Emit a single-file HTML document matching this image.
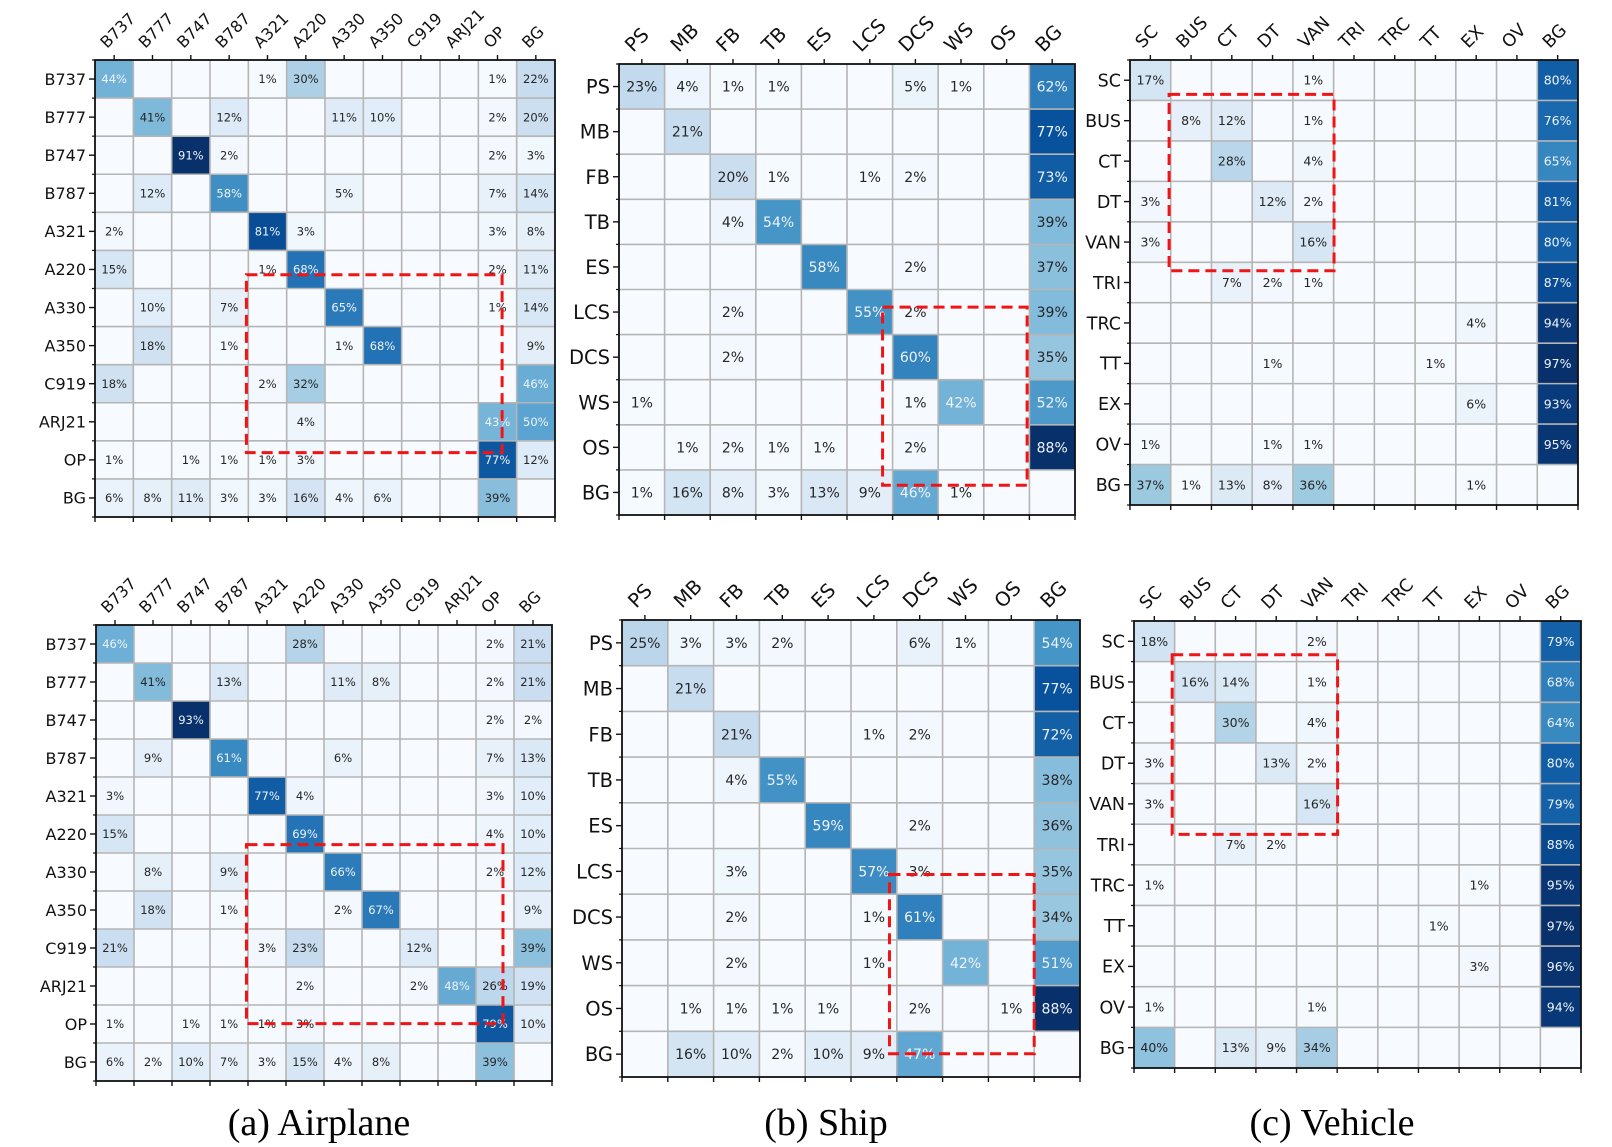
<!DOCTYPE html>
<html><head><meta charset="utf-8"><style>
html,body{margin:0;padding:0;background:#fff;width:1612px;height:1147px;overflow:hidden}
svg{display:block}
text{font-family:"DejaVu Sans","Liberation Sans",sans-serif}
.cap{font-family:"Liberation Serif",serif;font-size:38px;fill:#000}
</style></head><body>
<svg id="fig" width="1612" height="1147" viewBox="0 0 1612 1147" xmlns="http://www.w3.org/2000/svg">
<text class="cap" x="319" y="1135" text-anchor="middle">(a) Airplane</text>
<text class="cap" x="826" y="1135" text-anchor="middle">(b) Ship</text>
<text class="cap" x="1332" y="1135" text-anchor="middle">(c) Vehicle</text>
</svg>
<script>
const airLabels = ["B737","B777","B747","B787","A321","A220","A330","A350","C919","ARJ21","OP","BG"];
const shipLabels = ["PS","MB","FB","TB","ES","LCS","DCS","WS","OS","BG"];
const vehLabels = ["SC","BUS","CT","DT","VAN","TRI","TRC","TT","EX","OV","BG"];

const airTop = [
[44,0,0,0,1,30,0,0,0,0,1,22],
[0,41,0,12,0,0,11,10,0,0,2,20],
[0,0,91,2,0,0,0,0,0,0,2,3],
[0,12,0,58,0,0,5,0,0,0,7,14],
[2,0,0,0,81,3,0,0,0,0,3,8],
[15,0,0,0,1,68,0,0,0,0,2,11],
[0,10,0,7,0,0,65,0,0,0,1,14],
[0,18,0,1,0,0,1,68,0,0,0,9],
[18,0,0,0,2,32,0,0,0,0,0,46],
[0,0,0,0,0,4,0,0,0,0,43,50],
[1,0,1,1,1,3,0,0,0,0,77,12],
[6,8,11,3,3,16,4,6,0,0,39,0]];
const airBot = [
[46,0,0,0,0,28,0,0,0,0,2,21],
[0,41,0,13,0,0,11,8,0,0,2,21],
[0,0,93,0,0,0,0,0,0,0,2,2],
[0,9,0,61,0,0,6,0,0,0,7,13],
[3,0,0,0,77,4,0,0,0,0,3,10],
[15,0,0,0,0,69,0,0,0,0,4,10],
[0,8,0,9,0,0,66,0,0,0,2,12],
[0,18,0,1,0,0,2,67,0,0,0,9],
[21,0,0,0,3,23,0,0,12,0,0,39],
[0,0,0,0,0,2,0,0,2,48,26,19],
[1,0,1,1,1,3,0,0,0,0,79,10],
[6,2,10,7,3,15,4,8,0,0,39,0]];
const shipTop = [
[23,4,1,1,0,0,5,1,0,62],
[0,21,0,0,0,0,0,0,0,77],
[0,0,20,1,0,1,2,0,0,73],
[0,0,4,54,0,0,0,0,0,39],
[0,0,0,0,58,0,2,0,0,37],
[0,0,2,0,0,55,2,0,0,39],
[0,0,2,0,0,0,60,0,0,35],
[1,0,0,0,0,0,1,42,0,52],
[0,1,2,1,1,0,2,0,0,88],
[1,16,8,3,13,9,46,1,0,0]];
const shipBot = [
[25,3,3,2,0,0,6,1,0,54],
[0,21,0,0,0,0,0,0,0,77],
[0,0,21,0,0,1,2,0,0,72],
[0,0,4,55,0,0,0,0,0,38],
[0,0,0,0,59,0,2,0,0,36],
[0,0,3,0,0,57,3,0,0,35],
[0,0,2,0,0,1,61,0,0,34],
[0,0,2,0,0,1,0,42,0,51],
[0,1,1,1,1,0,2,0,1,88],
[0,16,10,2,10,9,47,0,0,0]];
const vehTop = [
[17,0,0,0,1,0,0,0,0,0,80],
[0,8,12,0,1,0,0,0,0,0,76],
[0,0,28,0,4,0,0,0,0,0,65],
[3,0,0,12,2,0,0,0,0,0,81],
[3,0,0,0,16,0,0,0,0,0,80],
[0,0,7,2,1,0,0,0,0,0,87],
[0,0,0,0,0,0,0,0,4,0,94],
[0,0,0,1,0,0,0,1,0,0,97],
[0,0,0,0,0,0,0,0,6,0,93],
[1,0,0,1,1,0,0,0,0,0,95],
[37,1,13,8,36,0,0,0,1,0,0]];
const vehBot = [
[18,0,0,0,2,0,0,0,0,0,79],
[0,16,14,0,1,0,0,0,0,0,68],
[0,0,30,0,4,0,0,0,0,0,64],
[3,0,0,13,2,0,0,0,0,0,80],
[3,0,0,0,16,0,0,0,0,0,79],
[0,0,7,2,0,0,0,0,0,0,88],
[1,0,0,0,0,0,0,0,1,0,95],
[0,0,0,0,0,0,0,1,0,0,97],
[0,0,0,0,0,0,0,0,3,0,96],
[1,0,0,0,1,0,0,0,0,0,94],
[40,0,13,9,34,0,0,0,0,0,0]];
// highlight boxes in cell units [col0,row0,col1,row1]
const airTopBox = [3.95,5.64,10.62,10.31];
const airBotBox = [3.96,5.78,10.71,10.49];
const shipTopBox = [5.78,5.39,8.95,9.34];
const shipBotBox = [5.84,5.57,9.0,9.49];
const vehTopBox = [0.96,0.85,5.01,5.21];
const vehBotBox = [0.94,0.83,5.01,5.25];

const NS = "http://www.w3.org/2000/svg";
const svg = document.getElementById('fig');
const stops = [[247,251,255],[222,235,247],[198,219,239],[158,202,225],[107,174,214],[66,146,198],[33,113,181],[8,81,156],[8,48,107]];
function blues(t){
  t=Math.max(0,Math.min(1,t));const p=t*8;const i=Math.min(7,Math.floor(p));const f=p-i;
  const a=stops[i],b=stops[i+1];
  return 'rgb('+a.map((v,k)=>Math.round(v+(b[k]-v)*f)).join(',')+')';
}
function mk(tag, attrs, parent){
  const e=document.createElementNS(NS,tag);
  for(const k in attrs)e.setAttribute(k,attrs[k]);
  (parent||svg).appendChild(e);return e;
}
function drawMatrix(key, labels, data, box, x0, y0, x1, y1, lblSize, valSize){
  const g=mk('g',{});
  
  
  const n=labels.length, cw=(x1-x0)/n, ch=(y1-y0)/n;
  const xs=c=>x0+c*cw, ys=r=>y0+r*ch;
  let mx=0;data.forEach(r=>r.forEach(v=>{if(v>mx)mx=v;}));
  data.forEach((row,r)=>row.forEach((v,c)=>{
    const rc=mk('rect',{x:xs(c),y:ys(r),width:cw,height:ch,fill:blues(v/mx)},g);
    
    
  }));
  for(let i=1;i<n;i++){
    mk('line',{x1:xs(i),y1:y0,x2:xs(i),y2:y1,stroke:'#b5b5b5','stroke-width':1.6},g);
    mk('line',{x1:x0,y1:ys(i),x2:x1,y2:ys(i),stroke:'#b5b5b5','stroke-width':1.6},g);
  }
  data.forEach((row,r)=>row.forEach((v,c)=>{
    if(!v)return;
    const t=mk('text',{x:xs(c)+cw/2,y:ys(r)+ch/2+valSize*0.36,'text-anchor':'middle','font-size':valSize,fill:(v/mx>0.46)?'#eef3f8':'#262626'},g);
    t.textContent=v+'%';
    
    
  }));
  mk('rect',{x:x0,y:y0,width:x1-x0,height:y1-y0,fill:'none',stroke:'#111','stroke-width':1.8},g);
  for(let i=0;i<n;i++){
    const cx=xs(i)+cw/2, cy=ys(i)+ch/2;
    mk('line',{x1:cx,y1:y0,x2:cx,y2:y0-5,stroke:'#111','stroke-width':1.4},g);
    mk('line',{x1:x0,y1:cy,x2:x0-6,y2:cy,stroke:'#111','stroke-width':1.4},g);
    const rl=mk('text',{x:x0-9,y:cy+lblSize*0.36,'text-anchor':'end','font-size':lblSize,fill:'#111'},g);
    rl.textContent=labels[i];
    
    
    const tx=cx-lblSize*0.45, ty=y0-11;
    const cl=mk('text',{x:tx,y:ty,'font-size':lblSize,fill:'#111',transform:'rotate(-45 '+tx+' '+ty+')'},g);
    cl.textContent=labels[i];
    
    
  }
  for(let i=0;i<=n;i++){
    mk('line',{x1:xs(i),y1:y1,x2:xs(i),y2:y1+5,stroke:'#111','stroke-width':1.4},g);
    mk('line',{x1:x0,y1:ys(i),x2:x0-3,y2:ys(i),stroke:'#111','stroke-width':1.2},g);
  }
  const hb=mk('rect',{x:xs(box[0]),y:ys(box[1]),width:(box[2]-box[0])*cw,height:(box[3]-box[1])*ch,fill:'none',stroke:'#f01414','stroke-width':3,'stroke-dasharray':'11 6'},g);
  
  
}
drawMatrix('airplane-top', airLabels, airTop, airTopBox, 95, 60, 555, 517, 16, 11.5);
drawMatrix('ship-top', shipLabels, shipTop, shipTopBox, 619, 64, 1075, 515, 19.5, 14);
drawMatrix('vehicle-top', vehLabels, vehTop, vehTopBox, 1130, 60, 1578, 505, 17.5, 12.5);
drawMatrix('airplane-bottom', airLabels, airBot, airBotBox, 96, 625, 552, 1081, 16, 11.5);
drawMatrix('ship-bottom', shipLabels, shipBot, shipBotBox, 622, 620, 1080, 1077, 19.5, 14);
drawMatrix('vehicle-bottom', vehLabels, vehBot, vehBotBox, 1134, 621, 1581, 1068, 17.5, 12.5);
</script>
</body></html>
